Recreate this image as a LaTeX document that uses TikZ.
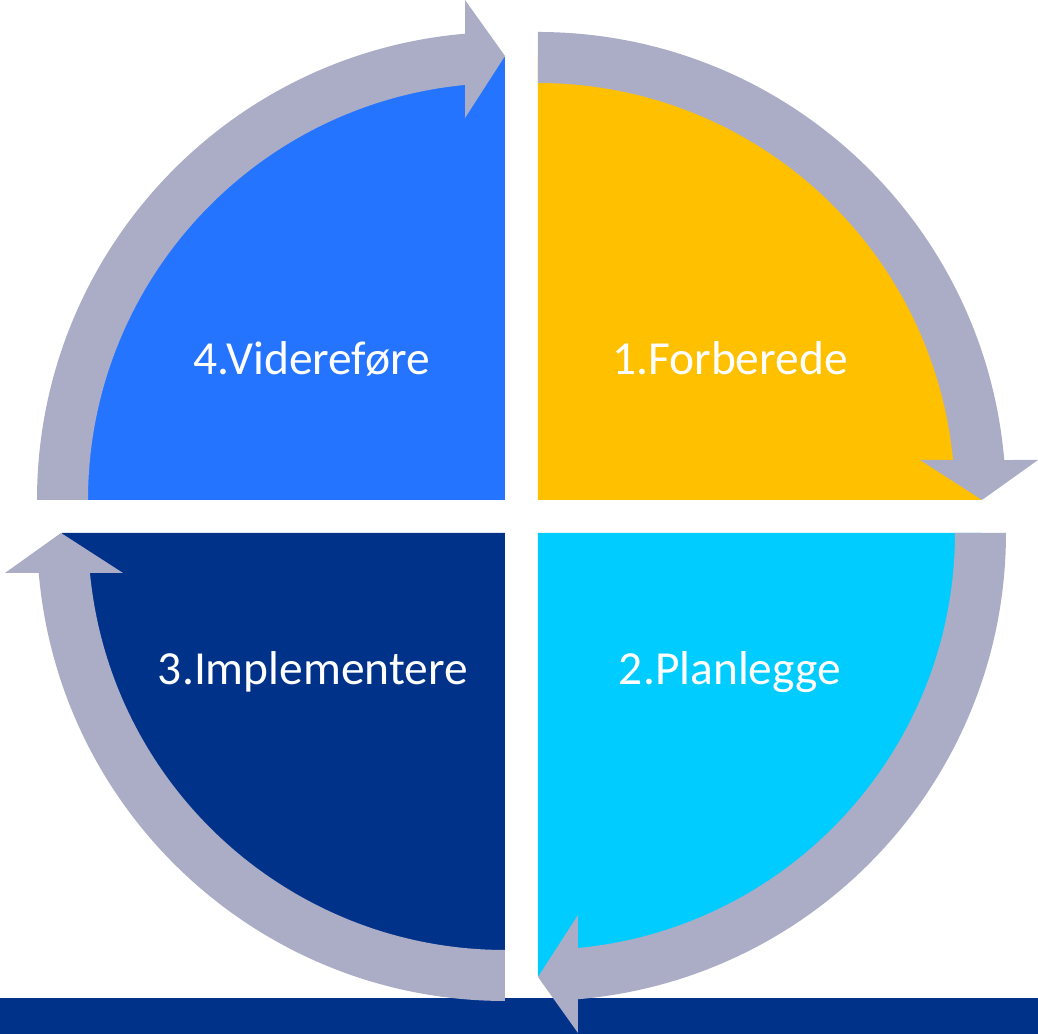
\documentclass[tikz,border=0pt]{standalone}
\usepackage{fontspec}
\setmainfont{Carlito}
\usepackage{xcolor}
\usetikzlibrary{positioning}

\definecolor{prepyellow}{HTML}{FFC000}
\definecolor{plancyan}{HTML}{00CCFF}
\definecolor{implnavy}{HTML}{00328A}
\definecolor{contblue}{HTML}{2574FF}
\definecolor{ringgrey}{HTML}{ABADC6}

\begin{document}
\begin{tikzpicture}[x=0.01cm, y=0.01cm,
    phasetext/.style={text=white, anchor=base, inner sep=0pt,
        font=\fontsize{13.5}{16}\selectfont}]
    \useasboundingbox (0,0) rectangle (1038,1034);

    % Bottom bar
    \fill[implnavy] (0,0) rectangle (1038,36);

    % Quarters with their arrows (corner / rotation / colour)
    \foreach \x/\y/\rot/\col in {538/534/0/prepyellow, 538/501/-90/plancyan,
                                 505/501/-180/implnavy, 505/534/-270/contblue} {
        \begin{scope}[shift={(\x,\y)}, rotate=\rot]
            \fill[\col] (0,0) -- (90:443) arc[start angle=90, end angle=0, radius=443] -- cycle;
            \fill[ringgrey] (90:468) arc[start angle=90, end angle=4.9, radius=468]
                -- (500,40) -- (444,0) -- (382,40)
                -- (5.5:417) arc[start angle=5.5, end angle=90, radius=417] -- cycle;
        \end{scope}
    }

    % Phase names
    \foreach \x/\y/\label [count=\i] in {730/659/1.Forberede, 730/349/2.Planlegge,
                                         313/349/3.Implementere, 312/659/4.Videreføre} {
        \node[phasetext] (phase\i) at (\x,\y) {\label};
    }
\end{tikzpicture}
\end{document}
